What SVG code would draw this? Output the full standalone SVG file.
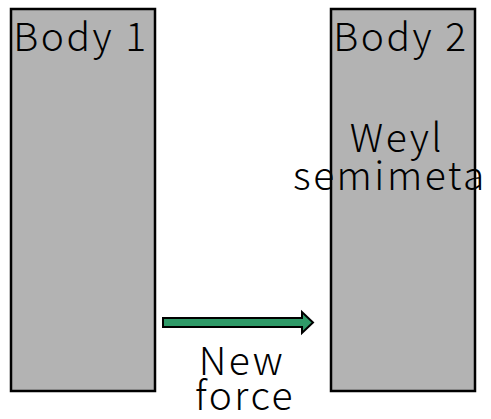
<svg xmlns="http://www.w3.org/2000/svg" width="491" height="419" viewBox="0 0 491 419">
<style>
.body{fill:#b3b3b3;stroke:#000;stroke-width:2.5}
.t{font-family:"Noto Sans CJK JP","Noto Sans",sans-serif;font-size:39px;font-weight:300;letter-spacing:2.5px;fill:#000}
</style>
<rect width="491" height="419" fill="#fff"/>
<g id="body1">
<rect class="body" x="11" y="9" width="144" height="382"/>
<text class="t" x="81" y="51" text-anchor="middle">Body 1</text>
</g>
<g id="body2">
<rect class="body" x="331" y="9" width="144" height="382"/>
<text class="t" x="401" y="51" text-anchor="middle">Body 2</text>
<text class="t" x="397" y="152" text-anchor="middle">Weyl</text>
<text class="t" x="293" y="190">semimeta</text>
</g>
<g id="connectors">
<polygon points="163,318 302,318 302,312 313,322.5 302,333 302,327 163,327" fill="#2f9a68" stroke="#000" stroke-width="2" stroke-linejoin="miter"/>
<text class="t" x="242" y="375" text-anchor="middle">New</text>
<text class="t" x="245" y="410" text-anchor="middle">force</text>
</g>
</svg>
